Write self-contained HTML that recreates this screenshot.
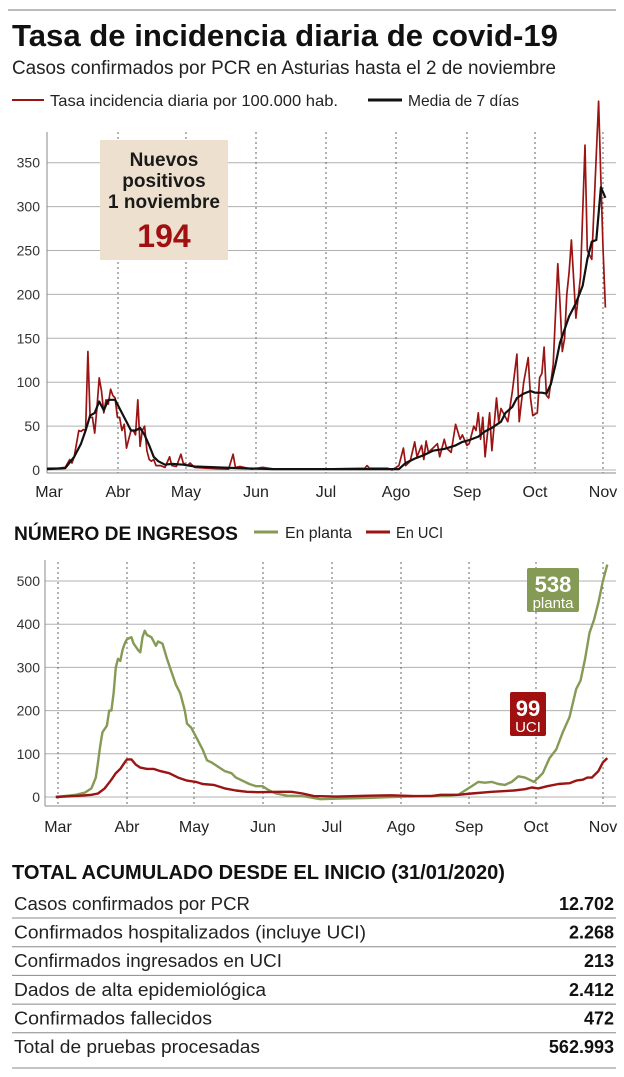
<!DOCTYPE html>
<html><head><meta charset="utf-8"><style>
body{margin:0;background:#fff;}
svg{display:block;font-family:"Liberation Sans Narrow","Liberation Sans",sans-serif;}
</style></head><body>
<svg id="s" width="624" height="1077" viewBox="0 0 624 1077" xmlns="http://www.w3.org/2000/svg">
<rect width="624" height="1077" fill="#fff"/>
<line x1="8" y1="10" x2="616" y2="10" stroke="#777" stroke-width="1"/>
<text x="12" y="46" font-size="31" font-weight="bold" textLength="546" lengthAdjust="spacingAndGlyphs" fill="#111">Tasa de incidencia diaria de covid-19</text>
<text x="12" y="74" font-size="19" textLength="544" lengthAdjust="spacingAndGlyphs" fill="#222">Casos confirmados por PCR en Asturias hasta el 2 de noviembre</text>
<line x1="12" y1="100" x2="44" y2="100" stroke="#9b1414" stroke-width="2"/>
<text x="50" y="106" font-size="16" textLength="288" lengthAdjust="spacingAndGlyphs" fill="#222">Tasa incidencia diaria por 100.000 hab.</text>
<line x1="368" y1="100" x2="402" y2="100" stroke="#111" stroke-width="3"/>
<text x="408" y="106" font-size="16" textLength="111" lengthAdjust="spacingAndGlyphs" fill="#222">Media de 7 días</text>
<g id="c1"></g>
<rect x="100" y="140" width="128" height="120" fill="#eee0cf"/>
<g font-weight="bold" text-anchor="middle" fill="#1a1a1a" font-size="19">
<text x="164" y="166">Nuevos</text><text x="164" y="187">positivos</text><text x="164" y="208" textLength="112" lengthAdjust="spacingAndGlyphs">1 noviembre</text>
<text x="164" y="247" font-size="32" fill="#a01010">194</text></g>

<text x="14" y="540" font-size="19" font-weight="bold" textLength="224" lengthAdjust="spacingAndGlyphs" fill="#111">NÚMERO DE INGRESOS</text>
<line x1="254" y1="532" x2="278" y2="532" stroke="#859a55" stroke-width="3"/>
<text x="285" y="538" font-size="16" textLength="67" lengthAdjust="spacingAndGlyphs" fill="#222">En planta</text>
<line x1="366" y1="532" x2="390" y2="532" stroke="#9b1414" stroke-width="3"/>
<text x="396" y="538" font-size="16" textLength="47" lengthAdjust="spacingAndGlyphs" fill="#222">En UCI</text>
<g id="c2"></g>
<rect x="527" y="568" width="52" height="44" fill="#859a55" rx="2"/>
<text x="553" y="592" font-size="22" font-weight="bold" fill="#fff" text-anchor="middle">538</text>
<text x="553" y="608" font-size="15" fill="#fff" text-anchor="middle">planta</text>
<rect x="510" y="692" width="36" height="44" fill="#a01010" rx="2"/>
<text x="528" y="716" font-size="22" font-weight="bold" fill="#fff" text-anchor="middle">99</text>
<text x="528" y="732" font-size="15" fill="#fff" text-anchor="middle">UCI</text>

<text x="12" y="879" font-size="20" font-weight="bold" textLength="493" lengthAdjust="spacingAndGlyphs" fill="#111">TOTAL ACUMULADO DESDE EL INICIO (31/01/2020)</text>
<g id="tb" font-size="18" fill="#222"></g>
</svg>
<script>
var NS="http://www.w3.org/2000/svg";
function el(p,t,a,txt){var e=document.createElementNS(NS,t);for(var k in a)e.setAttribute(k,a[k]);if(txt!==undefined)e.textContent=txt;p.appendChild(e);return e;}
function line(g,pts,fx,fy,col,w){var s=pts.map(function(p){return fx(p[0]).toFixed(1)+","+fy(p[1]).toFixed(1)}).join(" ");el(g,"polyline",{points:s,fill:"none",stroke:col,"stroke-width":w,"stroke-linejoin":"round"});}
function P(a){var o=[];for(var i=0;i<a.length;i+=2)o.push([a[i],a[i+1]]);return o;}
var months=["Mar","Abr","May","Jun","Jul","Ago","Sep","Oct","Nov"];
var g1=document.getElementById("c1");
var x1=[47,118,186,256,326,396,467,535,603];
for(var v=0;v<=350;v+=50){var y=470-v*0.878;el(g1,"line",{x1:47,x2:616,y1:y,y2:y,stroke:"#b0b0b0","stroke-width":1});el(g1,"text",{x:40,y:y+5,"font-size":14,"text-anchor":"end",fill:"#333"},String(v));}
x1.forEach(function(x,i){if(i>0)el(g1,"line",{x1:x,x2:x,y1:132,y2:473,stroke:"#666","stroke-width":1,"stroke-dasharray":"2,3"});el(g1,"text",{x:(i==0?49:x),y:497,"font-size":16,"text-anchor":"middle",fill:"#222"},months[i]);});
el(g1,"line",{x1:47,x2:47,y1:132,y2:473,stroke:"#888","stroke-width":1});
el(g1,"line",{x1:47,x2:616,y1:473,y2:473,stroke:"#888","stroke-width":1});
var fx1=function(d){return 47+d*2.27},fy1=function(v){return 470-v*0.878};
var red=P([0,2,5,2,8,3,10,12,11,8,12,15,14,45,15,44,16,46,17,45,18,135,19,60,20,60,21,42,22,70,23,105,24,90,25,65,26,80,27,75,28,92,29,85,30,82,31,60,32,60,33,45,34,52,35,25,36,35,37,45,38,45,39,40,40,80,41,27,42,45,43,50,44,22,45,12,46,10,47,12,48,5,50,5,52,3,54,15,55,5,57,4,59,18,60,8,62,5,63,8,65,3,70,2,80,1,82,18,83,3,85,4,90,1,95,3,100,1,120,1,140,2,141,5,142,2,150,2,152,0,155,5,157,25,158,5,160,10,162,32,163,15,165,28,166,12,167,33,168,20,170,25,172,30,173,15,175,35,176,25,178,20,180,52,182,35,183,40,185,28,186,30,188,50,189,45,190,65,191,35,192,60,193,15,195,65,196,22,198,82,199,55,200,70,202,60,203,55,205,90,207,132,208,55,210,100,212,128,213,82,214,62,216,65,217,105,218,110,219,140,220,85,221,82,223,120,225,235,226,190,227,135,228,150,229,200,230,225,231,262,233,173,235,220,237,370,238,250,239,245,240,240,243,420,244,330,245,250,246,185]);
var blk=P([0,1,8,2,12,15,15,30,17,45,19,62,21,65,23,78,25,68,27,80,30,80,32,70,35,55,37,45,39,45,41,48,43,40,45,28,47,15,49,10,52,6,55,7,60,6,65,4,75,3,85,2,100,1,130,1,150,1,155,1,158,8,162,13,166,17,170,22,175,24,180,28,183,32,186,34,190,38,193,44,196,48,200,55,202,65,205,72,207,82,210,87,213,90,215,88,218,88,220,87,222,98,224,120,226,145,230,175,233,190,236,210,238,240,240,260,242,262,244,322,246,310]);
line(g1,red,fx1,fy1,"#9b1414",1.7);
line(g1,blk,fx1,fy1,"#111",2.2);
var g2=document.getElementById("c2");
var x2=[58,127,194,263,332,401,469,536,603];
for(var v=0;v<=500;v+=100){var y=797-v*0.432;el(g2,"line",{x1:45,x2:616,y1:y,y2:y,stroke:"#b0b0b0","stroke-width":1});el(g2,"text",{x:40,y:y+5,"font-size":14,"text-anchor":"end",fill:"#333"},String(v));}
x2.forEach(function(x,i){el(g2,"line",{x1:x,x2:x,y1:562,y2:806,stroke:"#666","stroke-width":1,"stroke-dasharray":"2,3"});el(g2,"text",{x:x,y:832,"font-size":16,"text-anchor":"middle",fill:"#222"},months[i]);});
el(g2,"line",{x1:45,x2:45,y1:560,y2:806,stroke:"#888","stroke-width":1});
el(g2,"line",{x1:45,x2:616,y1:806,y2:806,stroke:"#888","stroke-width":1});
var fx2=function(d){return 58+d*2.224},fy2=function(v){return 797-v*0.432};
var gr=P([-1,0,8,5,12,10,15,20,17,45,18,80,19,120,20,150,22,165,23,200,24,200,25,240,26,300,27,320,28,315,29,340,30,355,31,365,33,370,34,355,36,340,37,335,38,370,39,385,40,375,42,370,44,350,45,360,47,355,49,320,51,290,53,260,55,240,57,200,58,170,60,160,63,130,65,110,67,85,69,80,72,70,75,60,78,55,80,45,82,40,86,30,89,25,92,25,95,15,98,8,103,3,110,2,118,-5,125,-4,140,-2,150,0,165,2,175,3,180,5,183,15,186,25,189,35,192,33,195,35,198,30,201,28,204,35,207,48,210,45,212,40,214,35,216,45,218,55,221,90,224,110,227,150,230,185,233,250,235,270,237,320,239,380,241,410,243,450,245,500,247,538]);
var uc=P([-1,0,10,3,15,5,18,8,21,20,24,40,26,55,28,65,30,80,31,87,33,87,35,75,37,68,40,65,43,65,46,60,50,55,54,45,58,38,62,35,65,30,70,28,75,20,80,15,85,12,90,11,100,12,105,12,110,8,115,2,125,1,140,3,150,4,160,2,168,2,172,5,180,5,186,8,195,12,205,15,210,18,213,22,216,20,220,25,225,30,230,32,233,38,236,40,238,45,240,45,243,60,245,80,247,90]);
line(g2,gr,fx2,fy2,"#859a55",2.4);
line(g2,uc,fx2,fy2,"#9b1414",2.4);
var tb=document.getElementById("tb");
var rows=[["Casos confirmados por PCR","12.702",236],["Confirmados hospitalizados (incluye UCI)","2.268",352],["Confirmados ingresados en UCI","213",268],["Dados de alta epidemiológica","2.412",252],["Confirmados fallecidos","472",198],["Total de pruebas procesadas","562.993",246]];
rows.forEach(function(r,i){var y=910+i*28.6;el(tb,"text",{x:14,y:y,textLength:r[2],lengthAdjust:"spacingAndGlyphs"},r[0]);el(tb,"text",{x:614,y:y,"text-anchor":"end","font-weight":"bold",fill:"#111"},r[1]);
var ly=(i<5)?918+i*28.7:1068;el(tb,"line",{x1:12,x2:616,y1:ly,y2:ly,stroke:"#888","stroke-width":1});});
</script>
</body></html>
